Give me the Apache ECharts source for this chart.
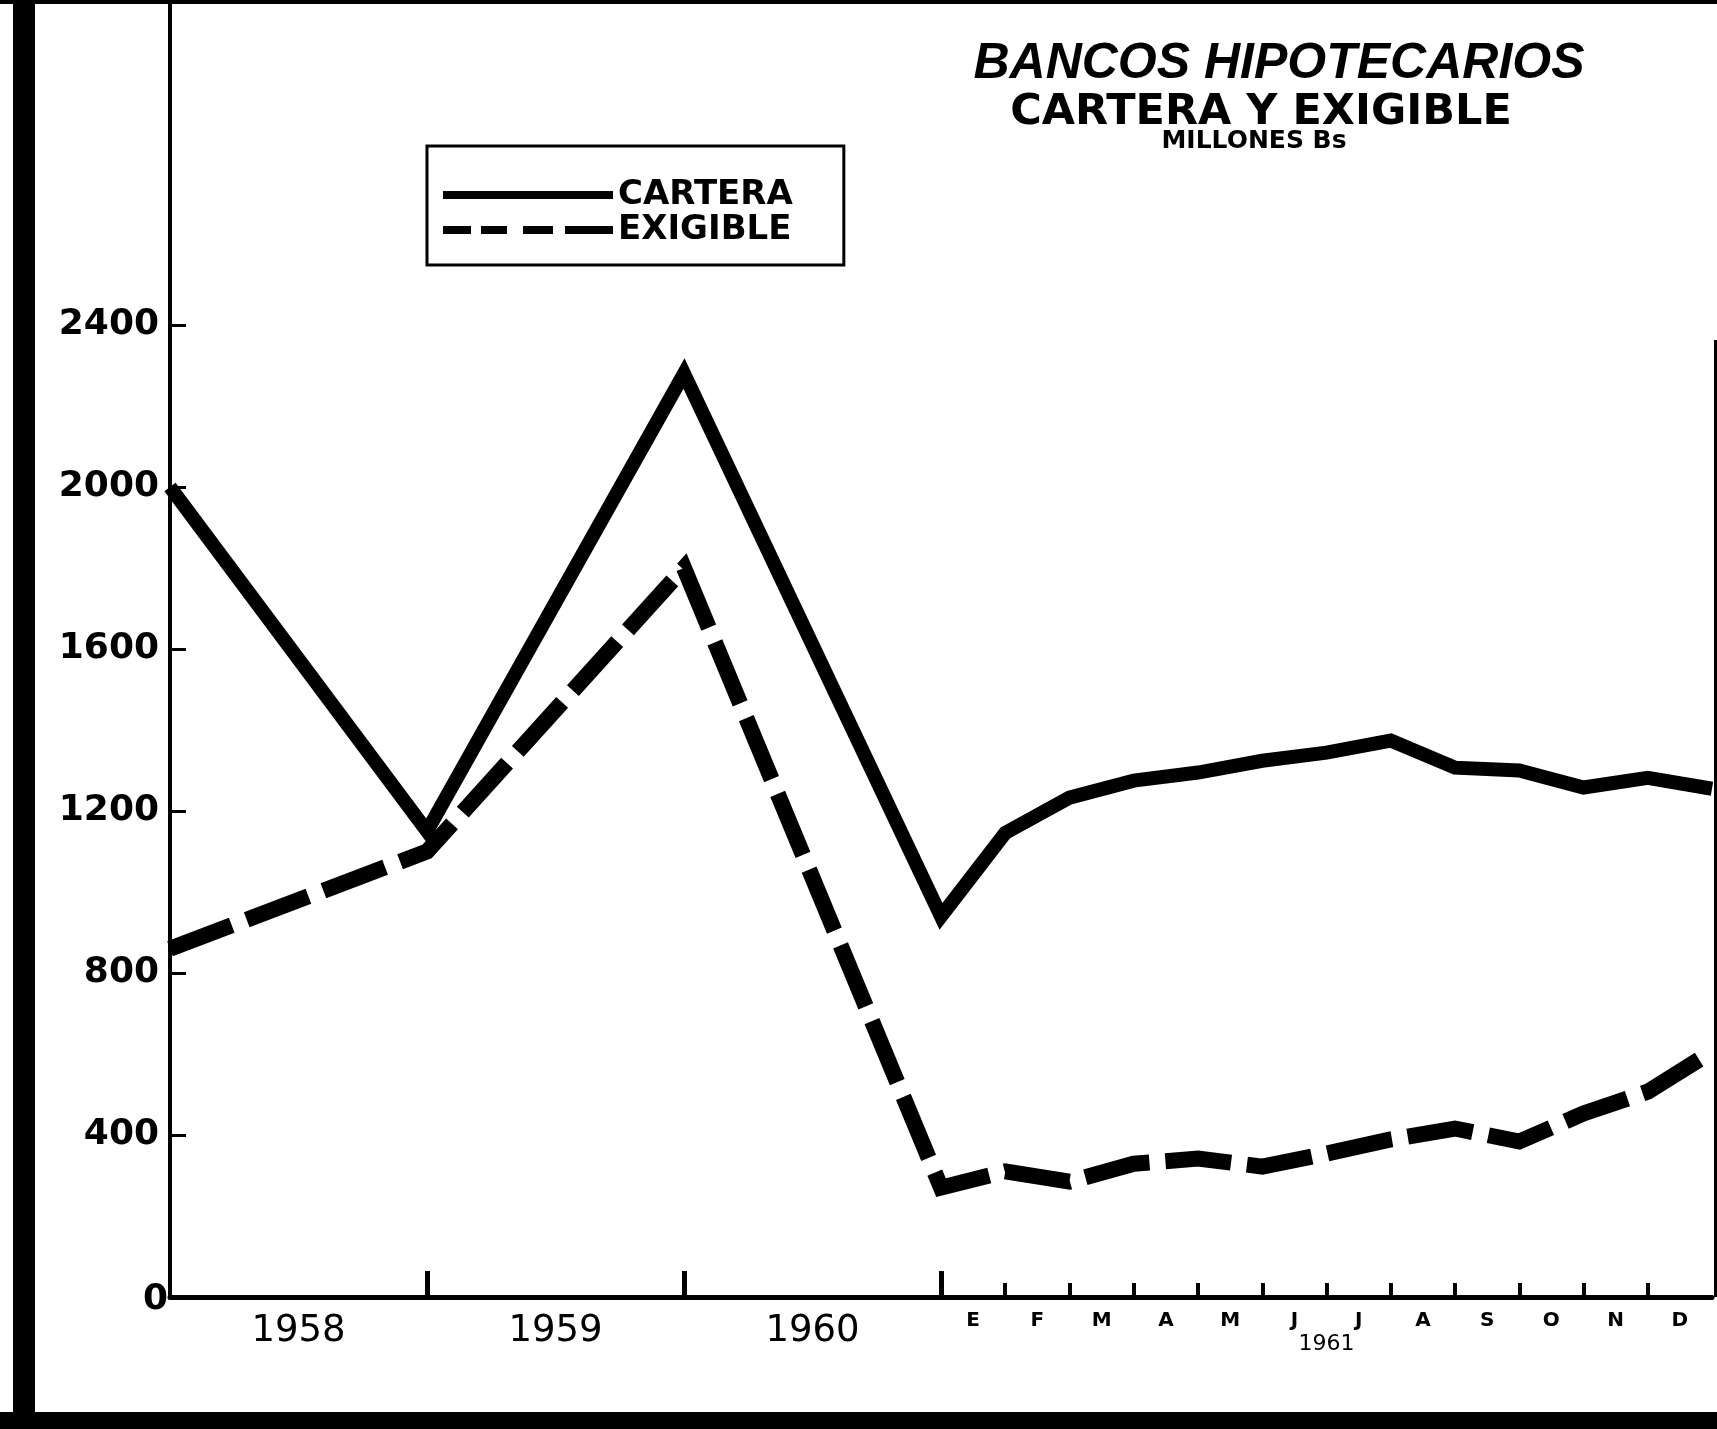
<!DOCTYPE html>
<html>
<head>
<meta charset="utf-8">
<script src="https://cdn.jsdelivr.net/npm/echarts@6/dist/echarts.min.js"></script>
<style>
  html, body { margin: 0; padding: 0; background: #fff; }
  #chart { width: 1717px; height: 1429px; }
</style>
</head>
<body>
<div id="chart"></div>
<script>
// datos (millones Bs)
var yearLabels = ['1958', '1959', '1960'];
var monthLabels = ['E', 'F', 'M', 'A', 'M', 'J', 'J', 'A', 'S', 'O', 'N', 'D'];
var monthsYear = '1961';
// valores en los limites de cada año: inicio 1958, fin 1958, fin 1959, fin 1960
var carteraYears = [2000, 1150, 2280, 940];
var exigibleYears = [860, 1100, 1800, 270];
// fin de cada mes de 1961
var carteraMonths = [1146, 1233, 1275, 1295, 1324, 1344, 1374, 1307, 1300, 1258, 1282, 1255];
var exigibleMonths = [310, 285, 329, 342, 322, 354, 389, 416, 384, 453, 507, 606];
var yTicks = [0, 400, 800, 1200, 1600, 2000, 2400];

// escala comprimida: un año ocupa lo mismo que 4 meses
var YEAR_SPAN = 4;
var monthStart = yearLabels.length * YEAR_SPAN;

function buildSeries(years, months) {
  var out = [];
  years.forEach(function (v, i) { out.push([i * YEAR_SPAN, v]); });
  months.forEach(function (v, i) { out.push([monthStart + i + 1, v]); });
  return out;
}

var yearTickVals = yearLabels.map(function (_, i) { return (i + 1) * YEAR_SPAN; });
var yearLabelVals = yearLabels.map(function (_, i) { return i * YEAR_SPAN + YEAR_SPAN / 2; });
var monthTickVals = monthLabels.slice(0, -1).map(function (_, i) { return monthStart + i + 1; });
var monthLabelVals = monthLabels.map(function (_, i) { return monthStart + i + 0.5; });
var xMax = monthStart + monthLabels.length;

var FONT = '"DejaVu Sans", sans-serif';

function xAxisBase() {
  return {
    type: 'value', min: 0, max: xMax, position: 'bottom', offset: 0,
    splitLine: { show: false }
  };
}

var chart = echarts.init(document.getElementById('chart'));
chart.setOption({
  backgroundColor: '#fff',
  animation: false,
  grid: { left: 170, right: 5, top: 1, bottom: 132, outerBoundsMode: 'none', containLabel: false },
  legend: {
    orient: 'vertical',
    left: 427,
    top: 146,
    borderColor: '#000',
    borderWidth: 3,
    padding: [32, 51, 18, 16],
    itemWidth: 170,
    itemHeight: 9,
    itemGap: 1,
    textStyle: { color: '#000', fontFamily: FONT, fontWeight: 'bold', fontSize: 34 },
    data: [
      { name: 'CARTERA', icon: 'path://M0,0H170V8H0Z' },
      { name: 'EXIGIBLE', icon: 'path://M0,0H28V8H0Z M38,0H64V8H38Z M80,0H110V8H80Z M122,0H170V8H122Z' }
    ]
  },
  xAxis: [
    Object.assign(xAxisBase(), {
      axisLine: { show: true, lineStyle: { color: '#000', width: 5 } },
      axisTick: { show: true, inside: true, length: 26, customValues: yearTickVals, lineStyle: { color: '#000', width: 5 } },
      axisLabel: {
        customValues: yearLabelVals, margin: 16,
        color: '#000', fontFamily: FONT, fontSize: 37,
        formatter: function (v) { return yearLabels[Math.round((v - YEAR_SPAN / 2) / YEAR_SPAN)]; }
      }
    }),
    Object.assign(xAxisBase(), {
      axisLine: { show: false },
      axisTick: { show: true, inside: true, length: 14, customValues: monthTickVals, lineStyle: { color: '#000', width: 4 } },
      axisLabel: {
        customValues: monthLabelVals, margin: 14,
        color: '#000', fontFamily: FONT, fontWeight: 'bold', fontSize: 20,
        formatter: function (v) { return monthLabels[Math.round(v - monthStart - 0.5)]; }
      }
    }),
    Object.assign(xAxisBase(), {
      axisLine: { show: false },
      axisTick: { show: false },
      axisLabel: {
        customValues: [monthStart + monthLabels.length / 2], margin: 36,
        color: '#000', fontFamily: FONT, fontSize: 22,
        formatter: function () { return monthsYear; }
      }
    })
  ],
  yAxis: {
    type: 'value', min: 0, max: 3200,
    axisLine: { show: true, lineStyle: { color: '#000', width: 4 } },
    axisTick: { show: true, inside: true, length: 16, customValues: yTicks.slice(1), lineStyle: { color: '#000', width: 3 } },
    axisLabel: {
      customValues: yTicks, margin: 0,
      color: '#000', fontFamily: FONT, fontWeight: 'bold', fontSize: 36,
      formatter: function (v) { return v === 0 ? '{z|0}' : '{n|' + v + '}'; },
      rich: {
        n: { fontFamily: FONT, fontWeight: 'bold', fontSize: 36, color: '#000', padding: [0, 11, 0, 0] },
        z: { fontFamily: FONT, fontWeight: 'bold', fontSize: 36, color: '#000', padding: [6, 2, 0, 0] }
      }
    },
    splitLine: { show: false }
  },
  graphic: [
    { type: 'rect', shape: { x: 13, y: 0, width: 22, height: 1429 }, style: { fill: '#000' } },
    { type: 'rect', shape: { x: 0, y: 1412, width: 1717, height: 17 }, style: { fill: '#000' } },
    { type: 'rect', shape: { x: 0, y: 0, width: 1717, height: 4 }, style: { fill: '#000' } },
    { type: 'rect', shape: { x: 1714, y: 340, width: 3, height: 957 }, style: { fill: '#000' } },
    { type: 'text', style: { text: 'BANCOS HIPOTECARIOS', x: 1279, y: 64, align: 'center', verticalAlign: 'middle', fill: '#000', font: 'italic bold 50px "Liberation Sans", sans-serif' } },
    { type: 'text', style: { text: 'CARTERA Y EXIGIBLE', x: 1261, y: 113, align: 'center', verticalAlign: 'middle', fill: '#000', font: 'bold 43px ' + FONT } },
    { type: 'text', style: { text: 'MILLONES Bs', x: 1254, y: 141, align: 'center', verticalAlign: 'middle', fill: '#000', font: 'bold 25px ' + FONT } }
  ],
  series: [
    {
      name: 'CARTERA', type: 'line', symbol: 'none', xAxisIndex: 0,
      itemStyle: { color: '#000' },
      lineStyle: { color: '#000', width: 14, join: 'miter' },
      data: buildSeries(carteraYears, carteraMonths)
    },
    {
      name: 'EXIGIBLE', type: 'line', symbol: 'none', xAxisIndex: 0,
      itemStyle: { color: '#000' },
      lineStyle: { color: '#000', width: 16, type: [66, 16], cap: 'butt', join: 'miter' },
      data: buildSeries(exigibleYears, exigibleMonths)
    }
  ]
});
</script>
</body>
</html>
